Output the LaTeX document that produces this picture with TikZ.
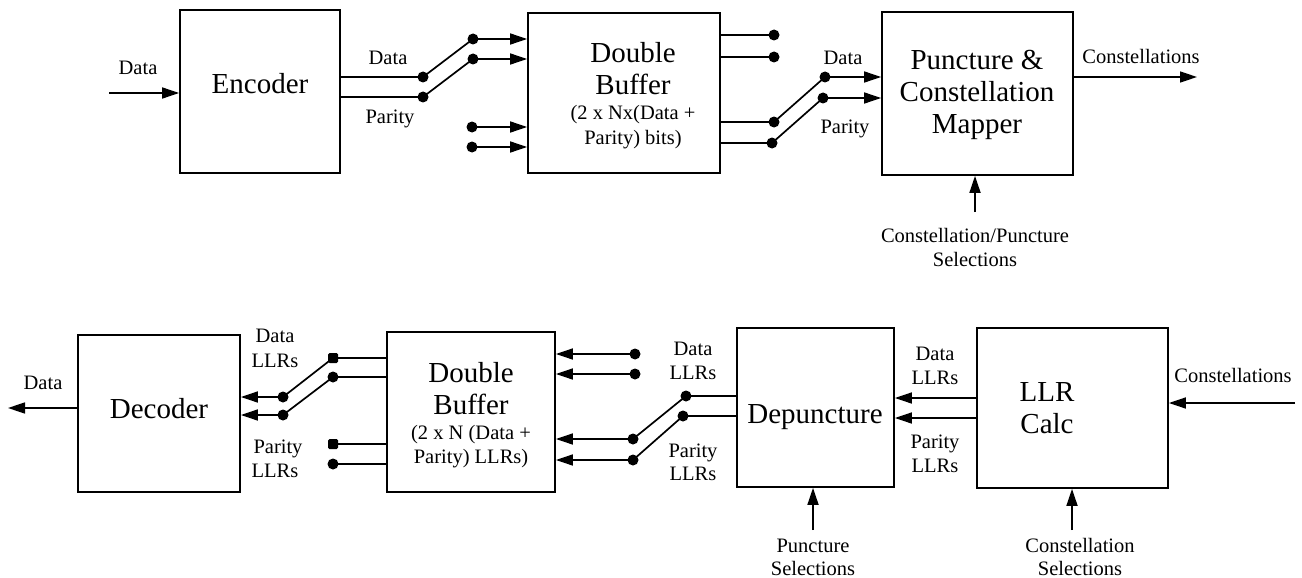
\documentclass[tikz,border=0pt]{standalone}
\usepackage{fontspec}
\setmainfont{Liberation Serif}
\usetikzlibrary{arrows.meta}
\begin{document}
\begin{tikzpicture}[x=1pt,y=-1pt,
 box/.style={draw,line width=1.8pt,inner sep=0pt},
 big/.style={font=\fontsize{29}{32}\selectfont, anchor=base, inner sep=0pt},
 sml/.style={font=\fontsize{20.5}{23}\selectfont, anchor=base, inner sep=0pt},
 wire/.style={line width=1.7pt},
 arr/.style={wire,-{Triangle[length=17pt,width=11pt]}},
 dot/.style={circle,fill,inner sep=0pt,minimum size=11pt},
 sqdot/.style={rectangle,rounded corners=1.5pt,fill,inner sep=0pt,minimum size=10pt}]
\useasboundingbox (0,0) rectangle (1302,578);

% ---------- top row boxes ----------
\node[box,minimum width=160pt,minimum height=163pt] (enc) at (260,91.5) {};
\node[box,minimum width=192pt,minimum height=160pt] (buf1) at (624,93) {};
\node[box,minimum width=191pt,minimum height=163pt] (punct) at (977.5,93.5) {};

\node[big] (tEnc) at (260,93) {Encoder};
\node[big] (tB1a) at (633,63) {Double};
\node[big] (tB1b) at (633,95) {Buffer};
\node[sml] (tB1c) at (633,120) {(2 x Nx(Data +};
\node[sml] (tB1d) at (633,144) {Parity) bits)};
\node[big] (tPa) at (977,70) {Puncture \&};
\node[big] (tPb) at (977,102) {Constellation};
\node[big] (tPc) at (977,133) {Mapper};

% input
\coordinate (inD) at (109,93);
\draw[arr] (inD) -- (inD -| enc.west);
\node[sml] (lInD) at (138,75) {Data};

% switch 1
\node[dot] (a1) at (423,77) {};
\node[dot] (a2) at (423,97) {};
\node[dot] (b1) at (473,39) {};
\node[dot] (b2) at (473,59) {};
\node[dot] (c1) at (472,127) {};
\node[dot] (c2) at (472,147) {};
\draw[wire] (enc.east |- a1.center) -- (a1.center) -- (b1.center);
\draw[wire] (enc.east |- a2.center) -- (a2.center) -- (b2.center);
\draw[arr] (b1.center) -- (b1.center -| buf1.west);
\draw[arr] (b2.center) -- (b2.center -| buf1.west);
\draw[arr] (c1.center) -- (c1.center -| buf1.west);
\draw[arr] (c2.center) -- (c2.center -| buf1.west);
\node[sml] (lD1) at (388,65) {Data};
\node[sml] (lP1) at (390,124) {Parity};

% switch 2
\node[dot] (d0a) at (774,35) {};
\node[dot] (d0b) at (774,57) {};
\node[dot] (d1) at (774,122) {};
\node[dot] (d2) at (772,143) {};
\node[dot] (e1) at (825,77) {};
\node[dot] (e2) at (823,98) {};
\draw[wire] (buf1.east |- d0a.center) -- (d0a.center);
\draw[wire] (buf1.east |- d0b.center) -- (d0b.center);
\draw[wire] (buf1.east |- d1.center) -- (d1.center) -- (e1.center);
\draw[wire] (buf1.east |- d2.center) -- (d2.center) -- (e2.center);
\draw[arr] (e1.center) -- (e1.center -| punct.west);
\draw[arr] (e2.center) -- (e2.center -| punct.west);
\node[sml] (lD2) at (843,65) {Data};
\node[sml] (lP2) at (845,133) {Parity};

% output & selection
\coordinate (outC) at (1197,77);
\draw[arr] (punct.east |- outC) -- (outC);
\node[sml] (lOutC) at (1141,64) {Constellations};
\coordinate (selP) at (975,212);
\draw[arr] (selP) -- (selP |- punct.south);
\node[sml] (lSelPa) at (975,242) {Constellation/Puncture};
\node[sml] (lSelPb) at (975,266) {Selections};

% ---------- bottom row boxes ----------
\node[box,minimum width=162pt,minimum height=157pt] (dec) at (159,413.5) {};
\node[box,minimum width=168pt,minimum height=160pt] (buf2) at (471,412) {};
\node[box,minimum width=157pt,minimum height=159pt] (dep) at (815.5,407.5) {};
\node[box,minimum width=191pt,minimum height=160pt] (llr) at (1072.5,408) {};

\node[big] (tDec) at (159,418) {Decoder};
\node[big] (tB2a) at (471,382) {Double};
\node[big] (tB2b) at (471,414) {Buffer};
\node[sml] (tB2c) at (471,439) {(2 x N (Data +};
\node[sml] (tB2d) at (471,463) {Parity) LLRs)};
\node[big] (tDep) at (815,423) {Depuncture};
\node[big] (tLa) at (1047,401) {LLR};
\node[big] (tLb) at (1047,433) {Calc};

% output data
\coordinate (outD) at (8,408);
\draw[arr] (dec.west |- outD) -- (outD);
\node[sml] (lOutD) at (43,389) {Data};

% switch 3
\node[dot] (f1) at (283,397) {};
\node[dot] (f2) at (283,415) {};
\node[sqdot] (g1) at (333,358) {};
\node[dot] (g2) at (333,377) {};
\node[sqdot] (h1) at (333,444) {};
\node[dot] (h2) at (333,464) {};
\draw[arr] (f1.center) -- (f1.center -| dec.east);
\draw[arr] (f2.center) -- (f2.center -| dec.east);
\draw[wire] (f1.center) -- (g1.center) -- (g1.center -| buf2.west);
\draw[wire] (f2.center) -- (g2.center) -- (g2.center -| buf2.west);
\draw[wire] (h1.center) -- (h1.center -| buf2.west);
\draw[wire] (h2.center) -- (h2.center -| buf2.west);
\node[sml] (lD3a) at (275,342) {Data};
\node[sml] (lD3b) at (275,367) {LLRs};
\node[sml] (lP3a) at (278,453) {Parity};
\node[sml] (lP3b) at (275,477) {LLRs};

% switch 4
\node[dot] (j1) at (635,354) {};
\node[dot] (j2) at (635,374) {};
\node[dot] (k1) at (633,439) {};
\node[dot] (k2) at (633,460) {};
\node[dot] (l1) at (686,396) {};
\node[dot] (l2) at (683,416) {};
\draw[arr] (j1.center) -- (j1.center -| buf2.east);
\draw[arr] (j2.center) -- (j2.center -| buf2.east);
\draw[arr] (k1.center) -- (k1.center -| buf2.east);
\draw[arr] (k2.center) -- (k2.center -| buf2.east);
\draw[wire] (k1.center) -- (l1.center) -- (l1.center -| dep.west);
\draw[wire] (k2.center) -- (l2.center) -- (l2.center -| dep.west);
\node[sml] (lD4a) at (693,355) {Data};
\node[sml] (lD4b) at (693,379) {LLRs};
\node[sml] (lP4a) at (693,457) {Parity};
\node[sml] (lP4b) at (693,480) {LLRs};

% llr -> depuncture
\coordinate (m1) at (935,398);
\coordinate (m2) at (935,418);
\draw[arr] (llr.west |- m1) -- (dep.east |- m1);
\draw[arr] (llr.west |- m2) -- (dep.east |- m2);
\node[sml] (lD5a) at (935,360) {Data};
\node[sml] (lD5b) at (935,384) {LLRs};
\node[sml] (lP5a) at (935,448) {Parity};
\node[sml] (lP5b) at (935,472) {LLRs};

% input constellations
\coordinate (inC) at (1295,403);
\draw[arr] (inC) -- (inC -| llr.east);
\node[sml] (lInC) at (1233,382) {Constellations};

% selections
\coordinate (selD) at (813,530);
\draw[arr] (selD) -- (selD |- dep.south);
\node[sml] (lSelDa) at (813,552) {Puncture};
\node[sml] (lSelDb) at (813,575) {Selections};
\coordinate (selL) at (1072,530);
\draw[arr] (selL) -- (selL |- llr.south);
\node[sml] (lSelLa) at (1080,552) {Constellation};
\node[sml] (lSelLb) at (1080,575) {Selections};
\end{tikzpicture}
\end{document}
